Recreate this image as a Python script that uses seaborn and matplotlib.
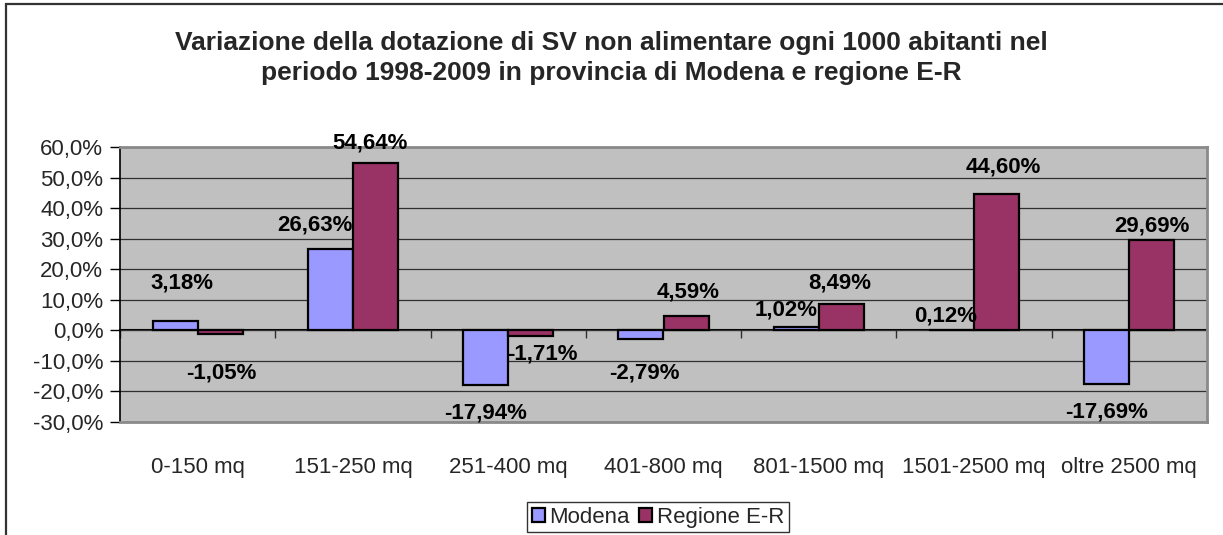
import pandas as pd
import numpy as np
import matplotlib.pyplot as plt
import matplotlib.patches as mpatches
from matplotlib.ticker import FuncFormatter
import seaborn as sns

categories = ["0-150 mq", "151-250 mq", "251-400 mq", "401-800 mq",
              "801-1500 mq", "1501-2500 mq", "oltre 2500 mq"]
modena = [3.18, 26.63, -17.94, -2.79, 1.02, 0.12, -17.69]
regione = [-1.05, 54.64, -1.71, 4.59, 8.49, 44.60, 29.69]
series = ["Modena", "Regione E-R"]
colors = ["#9999FF", "#993366"]

# label offsets (pixels) as they were placed by hand in the original
off_modena = [(7, 38), (-15, 24), (0, -28), (3, -34), (-10, 17), (-6, 14), (0, -28)]
off_regione = [(1, -39), (-5, 20), (12, -18), (2, 24), (-2, 21), (7, 27), (0, 14)]

df = pd.DataFrame({
    "cat": categories * 2,
    "val": modena + regione,
    "serie": [series[0]] * len(categories) + [series[1]] * len(categories),
})

sns.set_theme(style="white")
plt.rcParams['font.family'] = ['Liberation Sans', 'DejaVu Sans']

fig = plt.figure(figsize=(12.23, 5.35), dpi=100)
ax = fig.add_axes([120 / 1223, 1 - 422 / 535, 1087 / 1223, 275 / 535])
ax.set_facecolor("#C0C0C0")

sns.barplot(data=df, x="cat", y="val", hue="serie", palette=colors,
            width=0.58, gap=0, edgecolor="black", linewidth=1.6, ax=ax,
            saturation=1)

ax.set_ylim(-30, 60)
ax.set_xlim(-0.5, len(categories) - 0.5)
ax.set_yticks(np.arange(-30, 61, 10))
ax.yaxis.set_major_formatter(FuncFormatter(lambda v, p: f"{v:.1f}%".replace(".", ",")))
ax.grid(axis="y", color="#303030", linewidth=0.9)
ax.set_axisbelow(True)
ax.set_xlabel("")
ax.set_ylabel("")
ax.tick_params(axis="y", direction="out", length=7, width=1, color="black",
               labelsize=16, pad=5, left=True)
ax.tick_params(axis="x", length=0, labelsize=16, pad=25)
for s in ["top", "right", "bottom"]:
    ax.spines[s].set_color("#8A8A8A")
    ax.spines[s].set_linewidth(2)
ax.spines["left"].set_color("black")
ax.spines["left"].set_linewidth(1.2)

# category axis drawn on the zero line
zero = ax.secondary_xaxis(30 / 90)
zero.set_xticks(np.arange(-0.5, len(categories), 1.0))
zero.tick_params(direction="out", length=6, width=1, color="#303030", labelbottom=False)
zero.spines["bottom"].set_color("black")
zero.spines["bottom"].set_linewidth(1.5)

# data labels
for vals, offs, cont in zip([modena, regione], [off_modena, off_regione], ax.containers):
    for v, (dx, dy), bar in zip(vals, offs, cont):
        x = bar.get_x() + bar.get_width() / 2
        ax.annotate(f"{v:.2f}%".replace(".", ","), (x, v), xytext=(dx, dy),
                    textcoords="offset pixels", ha="center", va="center",
                    fontsize=16, fontweight="bold", color="black",
                    annotation_clip=False)

handles, labels = ax.get_legend_handles_labels()
ax.legend(handles, labels, loc="lower center", bbox_to_anchor=(658 / 1223, 3 / 535),
          bbox_transform=fig.transFigure, ncol=2, frameon=True, fancybox=False,
          edgecolor="black", fontsize=16, handlelength=0.6, handleheight=0.6,
          handletextpad=0.2, columnspacing=0.4, borderpad=0.2, borderaxespad=0)
ax.get_legend().get_frame().set_linewidth(1)

fig.text(0.5, 1 - 43 / 535, "Variazione della dotazione di SV non alimentare ogni 1000 abitanti nel",
         ha="center", va="center", fontsize=19, fontweight="bold")
fig.text(0.5, 1 - 73 / 535, "periodo 1998-2009 in provincia di Modena e regione E-R",
         ha="center", va="center", fontsize=19, fontweight="bold")

# outer chart frame (left and top edges visible)
fig.patches.append(mpatches.Rectangle((6 / 1223, -0.2), 1.2, 1.2 - 4 / 535,
                                      transform=fig.transFigure, fill=False,
                                      edgecolor="#333333", linewidth=1.6))

fig.savefig("out.png", dpi=100)
